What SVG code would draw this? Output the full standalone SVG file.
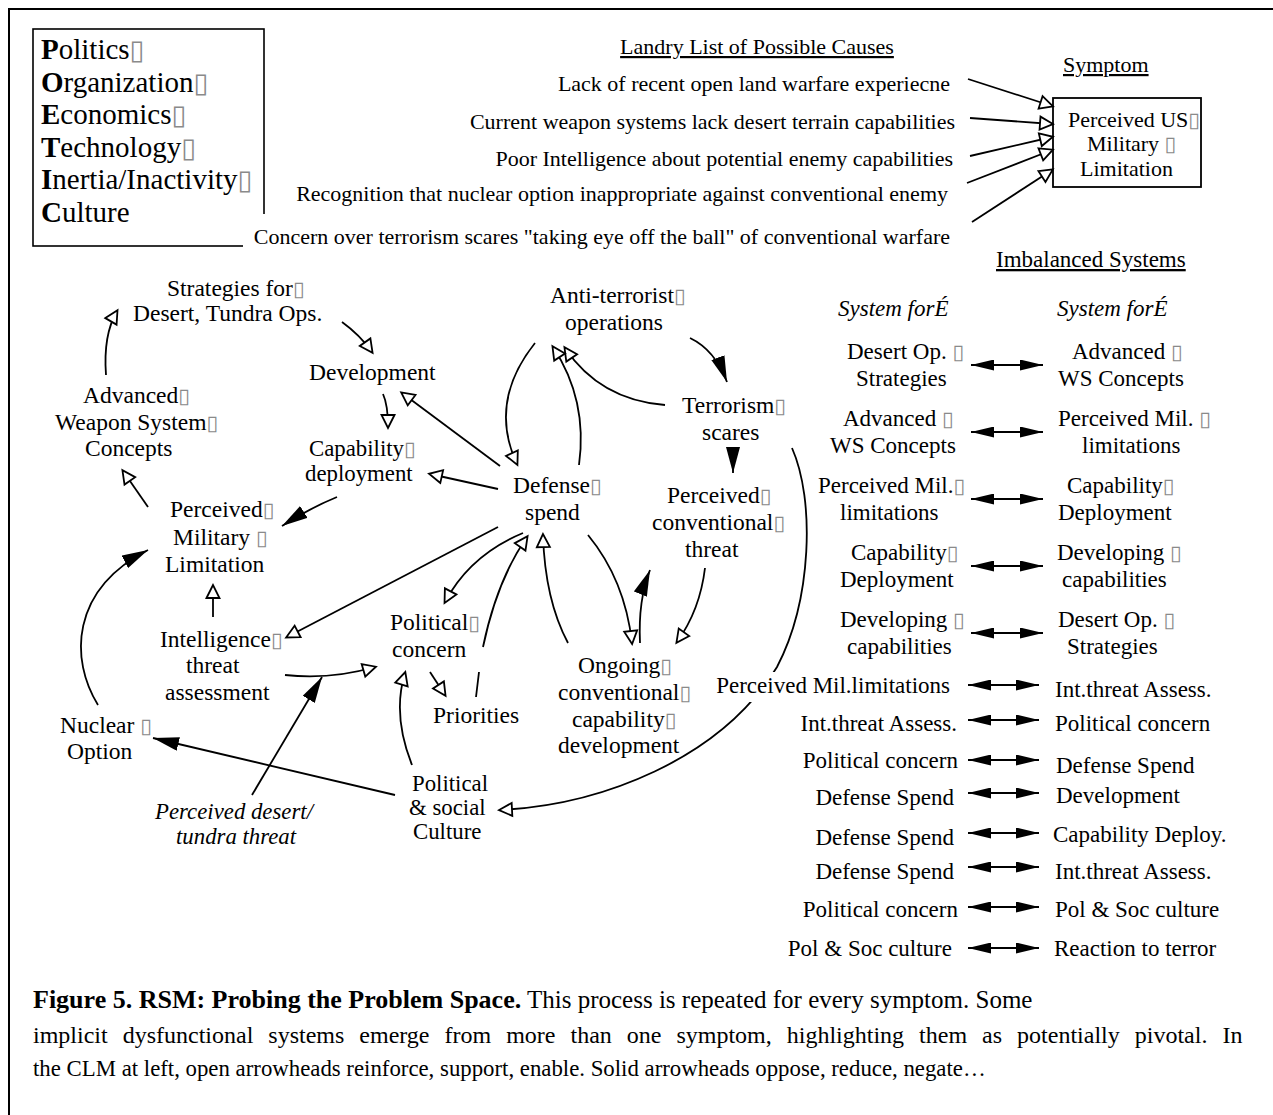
<svg xmlns="http://www.w3.org/2000/svg" width="1273" height="1115" viewBox="0 0 1273 1115">
<style>
  text { font-family: "Liberation Serif", "Times New Roman", serif; fill: #000; }
  .t22 { font-size: 22px; }
  .n { font-size: 23.5px; }
  .n2 { font-size: 22.8px; }
  .p { font-size: 23px; }
  .lg { font-size: 29px; }
  .b { font-weight: bold; }
  .i { font-style: italic; }
  .u { text-decoration: underline; }
  .g { font-family: "DejaVu Sans", sans-serif; fill: #8a8a8a; font-size: 21px; font-weight: normal; font-style: normal; }
  .lg .g { font-size: 27px; }
  .end { text-anchor: end; }
  .mid { text-anchor: middle; }
  .ln { fill: none; stroke: #000; stroke-width: 1.8; }
  .op { marker-end: url(#open); }
  .so { marker-end: url(#solid); }
  .dbl { fill: none; stroke: #000; stroke-width: 2; marker-start: url(#dbl); marker-end: url(#dbl); }
  .knock { fill: #fff; }
</style>
<defs>
  <marker id="open" markerUnits="userSpaceOnUse" viewBox="-2 -2 18 18" markerWidth="18" markerHeight="18" refX="12" refY="6.5" orient="auto">
    <path d="M0,0 L13,6.5 L0,13 Z" fill="#fff" stroke="#000" stroke-width="1.8"/>
  </marker>
  <marker id="solid" markerUnits="userSpaceOnUse" viewBox="0 0 26 14" markerWidth="26" markerHeight="14" refX="26" refY="7" orient="auto">
    <path d="M0,0 L26,7 L0,14 Z" fill="#000"/>
  </marker>
  <marker id="dbl" markerUnits="userSpaceOnUse" viewBox="0 0 23 11" markerWidth="23" markerHeight="11" refX="23" refY="5.5" orient="auto-start-reverse">
    <path d="M0,0 L23,5.5 L0,11 Z" fill="#000"/>
  </marker>
</defs>

<!-- page frame -->
<path d="M9,1115 V9 H1273" fill="none" stroke="#000" stroke-width="2"/>

<!-- POETIC legend -->
<g id="legend">
  <rect x="33" y="29" width="231" height="217" fill="none" stroke="#000" stroke-width="1.6"/>
  <text class="lg" x="41" y="59"><tspan class="b">P</tspan>olitics<tspan class="g">▯</tspan></text>
  <text class="lg" x="41" y="91.6"><tspan class="b">O</tspan>rganization<tspan class="g">▯</tspan></text>
  <text class="lg" x="41" y="124.2"><tspan class="b">E</tspan>conomics<tspan class="g">▯</tspan></text>
  <text class="lg" x="41" y="156.8"><tspan class="b">T</tspan>echnology<tspan class="g">▯</tspan></text>
  <text class="lg" x="41" y="189.4"><tspan class="b">I</tspan>nertia/Inactivity<tspan class="g">▯</tspan></text>
  <text class="lg" x="41" y="222"><tspan class="b">C</tspan>ulture</text>
</g>

<!-- list of possible causes -->
<g id="causes">
  <text class="t22 mid u" x="757" y="54">Landry List of Possible Causes</text>
  <text class="t22 end" x="950" y="91">Lack of recent open land warfare experiecne</text>
  <text class="t22 end" x="955" y="128.5">Current weapon systems lack desert terrain capabilities</text>
  <text class="t22 end" x="953" y="165.5">Poor Intelligence about potential enemy capabilities</text>
  <text class="t22 end" x="948" y="201">Recognition that nuclear option inappropriate against conventional enemy</text>
  <rect class="knock" x="243" y="214" width="710" height="36"/>
  <text class="t22 end" x="950" y="244">Concern over terrorism scares "taking eye off the ball" of conventional warfare</text>
</g>

<!-- symptom -->
<g id="symptom">
  <text class="t22 u" x="1063" y="72">Symptom</text>
  <rect x="1053" y="98" width="148" height="89" fill="#fff" stroke="#000" stroke-width="1.8"/>
  <text class="t22" x="1068" y="127">Perceived US<tspan class="g">▯</tspan></text>
  <text class="t22" x="1087" y="151">Military <tspan class="g">▯</tspan></text>
  <text class="t22" x="1080" y="176">Limitation</text>
</g>

<!-- causal loop nodes -->
<g id="n-strategies"><text class="n" x="167" y="296">Strategies for<tspan class="g">▯</tspan></text><text class="n" x="133" y="321">Desert, Tundra Ops.</text></g>
<g id="n-development"><text class="n" x="309" y="380">Development</text></g>
<g id="n-advanced"><text class="n" x="83" y="403">Advanced<tspan class="g">▯</tspan></text><text class="n" x="55" y="430">Weapon System<tspan class="g">▯</tspan></text><text class="n" x="85" y="456">Concepts</text></g>
<g id="n-capability"><text class="n2" x="309" y="456">Capability<tspan class="g">▯</tspan></text><text class="n2" x="305" y="481">deployment</text></g>
<g id="n-perceived-limitation"><text class="n" x="170" y="517">Perceived<tspan class="g">▯</tspan></text><text class="n" x="173" y="545">Military <tspan class="g">▯</tspan></text><text class="n" x="165" y="572">Limitation</text></g>
<g id="n-intelligence"><text class="n" x="160" y="647">Intelligence<tspan class="g">▯</tspan></text><text class="n" x="186" y="673">threat</text><text class="n" x="165" y="700">assessment</text></g>
<g id="n-nuclear"><text class="n" x="60" y="733">Nuclear <tspan class="g">▯</tspan></text><text class="n" x="67" y="759">Option</text></g>
<g id="n-desert-threat"><text class="n2 i" x="155" y="819">Perceived desert/</text><text class="n2 i" x="176" y="844">tundra threat</text></g>
<g id="n-culture"><text class="n2" x="412" y="791">Political</text><text class="n2" x="409" y="815">&amp; social</text><text class="n2" x="413" y="839">Culture</text></g>
<g id="n-political"><text class="n" x="390" y="630">Political<tspan class="g">▯</tspan></text><text class="n" x="392" y="657">concern</text></g>
<g id="n-priorities"><text class="n" x="433" y="723">Priorities</text></g>
<g id="n-defense"><text class="n" x="513" y="493">Defense<tspan class="g">▯</tspan></text><text class="n" x="525" y="520">spend</text></g>
<g id="n-conv-threat"><text class="n" x="667" y="503">Perceived<tspan class="g">▯</tspan></text><text class="n" x="652" y="530">conventional<tspan class="g">▯</tspan></text><text class="n" x="685" y="557">threat</text></g>
<g id="n-ongoing"><text class="n" x="578" y="673">Ongoing<tspan class="g">▯</tspan></text><text class="n" x="558" y="700">conventional<tspan class="g">▯</tspan></text><text class="n" x="572" y="727">capability<tspan class="g">▯</tspan></text><text class="n" x="558" y="753">development</text></g>
<g id="n-antiterror"><text class="n" x="550" y="303">Anti-terrorist<tspan class="g">▯</tspan></text><text class="n" x="565" y="330">operations</text></g>
<g id="n-terror"><text class="n" x="682" y="413">Terrorism<tspan class="g">▯</tspan></text><text class="n" x="702" y="440">scares</text></g>

<!-- connectors -->
<g id="connectors">
  <!-- causes into the symptom box -->
  <path class="ln op" d="M968,79 L1052,106"/>
  <path class="ln op" d="M970,118 L1052,124"/>
  <path class="ln op" d="M970,156 L1052,137"/>
  <path class="ln op" d="M967,183 L1052,150"/>
  <path class="ln op" d="M972,222 L1052,170"/>

  <!-- causal loop links -->
  <path class="ln op" d="M106,375 Q103,335 117,311"/>
  <path class="ln op" d="M342,322 Q360,335 372,352"/>
  <path class="ln op" d="M383,394 Q388,405 388,427"/>
  <path class="ln op" d="M500,466 L402,393"/>
  <path class="ln op" d="M498,489 L430,474"/>
  <path class="ln so" d="M337,497 Q310,508 282,526"/>
  <path class="ln op" d="M148,507 L123,471"/>
  <path class="ln op" d="M213,617 L213,586"/>
  <path class="ln so" d="M98,705 C70,660 70,590 148,550"/>
  <path class="ln op" d="M498,527 L287,637"/>
  <path class="ln op" d="M285,675 Q330,680 375,667"/>
  <path class="ln so" d="M252,795 L322,677"/>
  <path class="ln so" d="M395,795 L153,738"/>
  <path class="ln op" d="M412,765 Q392,715 405,673"/>
  <path class="ln op" d="M523,533 Q470,555 445,602"/>
  <path class="ln op" d="M476,697 L479,672 M483,647 Q497,580 527,537"/>
  <path class="ln op" d="M430,672 L445,695"/>
  <path class="ln op" d="M568,643 Q545,600 543,535"/>
  <path class="ln op" d="M588,535 Q625,580 632,643"/>
  <path class="ln so" d="M640,643 Q638,600 650,570"/>
  <path class="ln op" d="M705,568 Q700,610 677,642"/>
  <path class="ln op" d="M792,448 C815,500 812,600 777,667 C720,760 600,805 500,810"/>
  <path class="ln so" d="M690,338 Q715,350 727,382"/>
  <path class="ln op" d="M665,405 Q600,400 565,348"/>
  <path class="ln op" d="M535,343 Q488,402 517,464"/>
  <path class="ln op" d="M579,465 Q588,400 553,347"/>
  <path class="ln so" d="M733,447 L733,473"/>

  <!-- imbalanced system pairs -->
  <path class="dbl" d="M971,365 H1043"/>
  <path class="dbl" d="M971,432 H1043"/>
  <path class="dbl" d="M971,499 H1043"/>
  <path class="dbl" d="M971,566 H1043"/>
  <path class="dbl" d="M971,633 H1043"/>
  <path class="dbl" d="M968,685 H1039"/>
  <path class="dbl" d="M968,720 H1039"/>
  <path class="dbl" d="M968,760 H1039"/>
  <path class="dbl" d="M968,793 H1039"/>
  <path class="dbl" d="M968,833 H1039"/>
  <path class="dbl" d="M968,867 H1039"/>
  <path class="dbl" d="M968,907 H1039"/>
  <path class="dbl" d="M968,948 H1039"/>
</g>

<!-- imbalanced systems table -->
<g id="imbalanced">
  <text class="p u" x="996" y="267">Imbalanced Systems</text>
  <text class="p i" x="838" y="316">System forÉ</text>
  <text class="p i" x="1057" y="316">System forÉ</text>

  <text class="p" x="847" y="359">Desert Op. <tspan class="g">▯</tspan></text><text class="p" x="856" y="386">Strategies</text>
  <text class="p" x="1072" y="359">Advanced <tspan class="g">▯</tspan></text><text class="p" x="1058" y="386">WS Concepts</text>

  <text class="p" x="843" y="426">Advanced <tspan class="g">▯</tspan></text><text class="p" x="830" y="453">WS Concepts</text>
  <text class="p" x="1058" y="426">Perceived Mil. <tspan class="g">▯</tspan></text><text class="p" x="1082" y="453">limitations</text>

  <text class="p" x="818" y="493">Perceived Mil.<tspan class="g">▯</tspan></text><text class="p" x="840" y="520">limitations</text>
  <text class="p" x="1067" y="493">Capability<tspan class="g">▯</tspan></text><text class="p" x="1058" y="520">Deployment</text>

  <text class="p" x="851" y="560">Capability<tspan class="g">▯</tspan></text><text class="p" x="840" y="587">Deployment</text>
  <text class="p" x="1057" y="560">Developing <tspan class="g">▯</tspan></text><text class="p" x="1062" y="587">capabilities</text>

  <text class="p" x="840" y="627">Developing <tspan class="g">▯</tspan></text><text class="p" x="847" y="654">capabilities</text>
  <text class="p" x="1058" y="627">Desert Op. <tspan class="g">▯</tspan></text><text class="p" x="1067" y="654">Strategies</text>

  <rect class="knock" x="714" y="672" width="240" height="30"/>
  <text class="p end" x="950" y="693">Perceived Mil.limitations</text>
  <text class="p" x="1055" y="697">Int.threat Assess.</text>
  <text class="p end" x="957" y="731">Int.threat Assess.</text>
  <text class="p" x="1055" y="731">Political concern</text>
  <text class="p end" x="958" y="768">Political concern</text>
  <text class="p" x="1056" y="773">Defense Spend</text>
  <text class="p end" x="954" y="805">Defense Spend</text>
  <text class="p" x="1056" y="803">Development</text>
  <text class="p end" x="954" y="845">Defense Spend</text>
  <text class="p" x="1053" y="842">Capability Deploy.</text>
  <text class="p end" x="954" y="879">Defense Spend</text>
  <text class="p" x="1055" y="879">Int.threat Assess.</text>
  <text class="p end" x="958" y="917">Political concern</text>
  <text class="p" x="1055" y="917">Pol &amp; Soc culture</text>
  <text class="p end" x="952" y="956">Pol &amp; Soc culture</text>
  <text class="p" x="1054" y="956">Reaction to terror</text>
</g>

<!-- caption -->
<g id="caption">
  <text x="33" y="1008"><tspan class="b" font-size="26">Figure 5. RSM: Probing the Problem Space.</tspan><tspan font-size="25"> This process is repeated for every symptom. Some</tspan></text>
  <text x="33" y="1043" font-size="24" word-spacing="9">implicit dysfunctional systems emerge from more than one symptom, highlighting them as potentially pivotal. In</text>
  <text x="33" y="1076" font-size="22.8">the CLM at left, open arrowheads reinforce, support, enable. Solid arrowheads oppose, reduce, negate…</text>
</g>
</svg>
